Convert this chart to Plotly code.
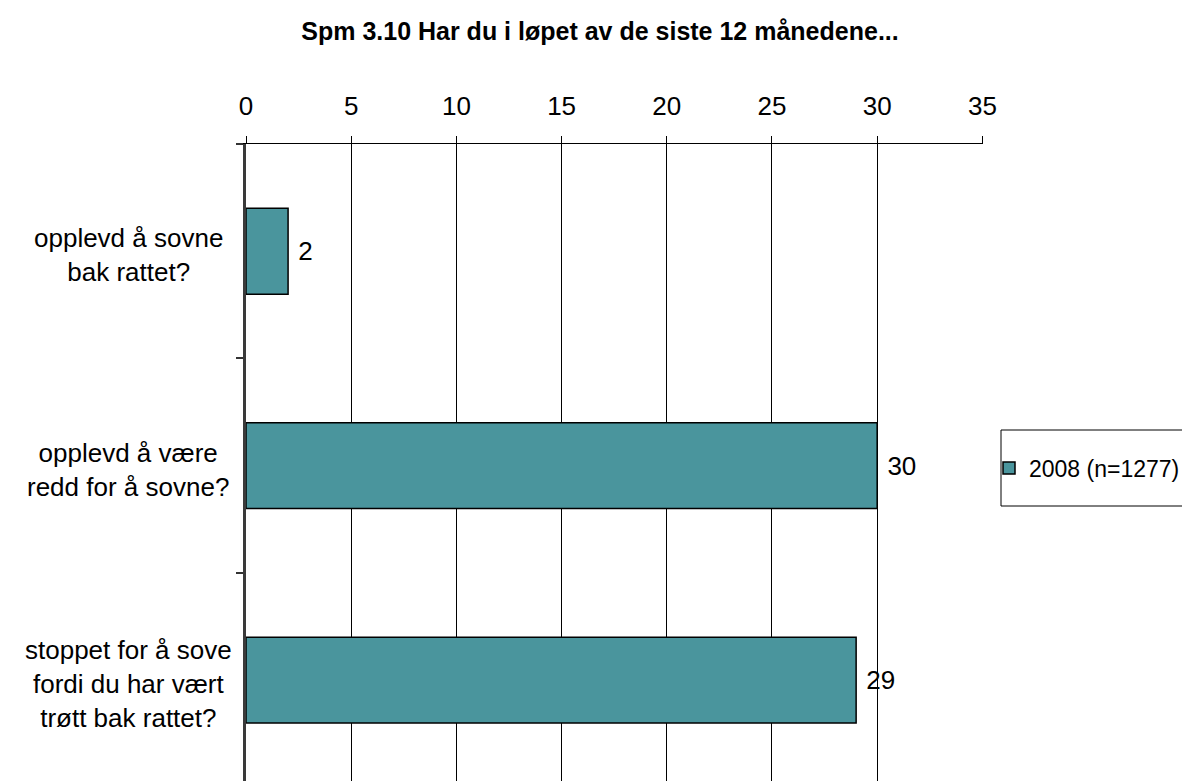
import plotly.graph_objects as go

categories = [
    "opplevd å sovne<br>bak rattet?",
    "opplevd å være<br>redd for å sovne?",
    "stoppet for å sove<br>fordi du har vært<br>trøtt bak rattet?",
]
values_2008 = [2, 30, 29]
series_name = "2008 (n=1277)"
x_ticks = [0, 5, 10, 15, 20, 25, 30, 35]
title_text = "Spm 3.10 Har du i løpet av de siste 12 månedene..."

FONT = "Liberation Sans, Arial, sans-serif"
BAR_COLOR = "#4A959D"
FS = 26

# page has an 8px body margin; figure is laid out in its own coordinates
W, H = 1182, 773
L, T, PW = 238, 136, 737
PH = H - T

fig = go.Figure()
fig.add_trace(go.Bar(
    y=categories,
    x=values_2008,
    orientation="h",
    name=series_name,
    width=0.4,
    marker=dict(color=BAR_COLOR, line=dict(color="black", width=1.5)),
    text=values_2008,
    texttemplate="&nbsp;%{x}",
    textposition="outside",
    textfont=dict(family=FONT, size=FS, color="black"),
    cliponaxis=False,
    showlegend=True,
))

for cat in categories:
    fig.add_annotation(
        x=(120 - L) / PW, xref="paper", y=cat, yref="y",
        text=cat, showarrow=False, align="center",
        xanchor="center", yanchor="middle", yshift=-4,
        font=dict(family=FONT, size=FS, color="black"),
    )

# legend frame
fig.add_shape(type="rect", xref="paper", yref="paper",
              x0=(993 - L) / PW, x1=(1240 - L) / PW,
              y0=(H - 498) / PH, y1=(H - 422) / PH,
              line=dict(color="black", width=1), fillcolor="white", layer="below")

fig.update_layout(
    width=W, height=H,
    margin=dict(l=L, r=W - L - PW, t=T, b=0, pad=0, autoexpand=False),
    paper_bgcolor="white", plot_bgcolor="white",
    font=dict(family=FONT, size=FS, color="black"),
    title=dict(text="<b>" + title_text + "</b>", x=592 / W, xref="container",
               xanchor="center", y=1 - 23 / H, yref="container", yanchor="middle",
               font=dict(family=FONT, size=25, color="black")),
    showlegend=True,
    legend=dict(x=981 / W, xref="container", xanchor="left",
                y=1 - 460 / H, yref="container", yanchor="middle",
                bgcolor="rgba(0,0,0,0)", borderwidth=0,
                font=dict(family=FONT, size=23, color="black")),
    bargap=0.6,
)

fig.update_xaxes(
    side="top", range=[0, 35.03], tickvals=x_ticks, ticktext=[str(v) for v in x_ticks],
    showgrid=True, gridcolor="black", gridwidth=1,
    showline=True, linecolor="black", linewidth=1,
    ticks="outside", ticklen=7, tickcolor="black", tickwidth=1,
    ticklabelstandoff=11, zeroline=False, automargin=False,
    tickfont=dict(family=FONT, size=FS, color="black"),
)
fig.update_yaxes(
    type="category", categoryorder="array", categoryarray=categories,
    range=[2.47, -0.5], autorange=False, automargin=False,
    showticklabels=False, tickson="boundaries",
    ticks="outside", ticklen=7, tickcolor="#333333", tickwidth=1.5,
    showline=True, linecolor="#3a3a3a", linewidth=2.5,
    showgrid=False, zeroline=False,
)

fig.write_html("out.html")
